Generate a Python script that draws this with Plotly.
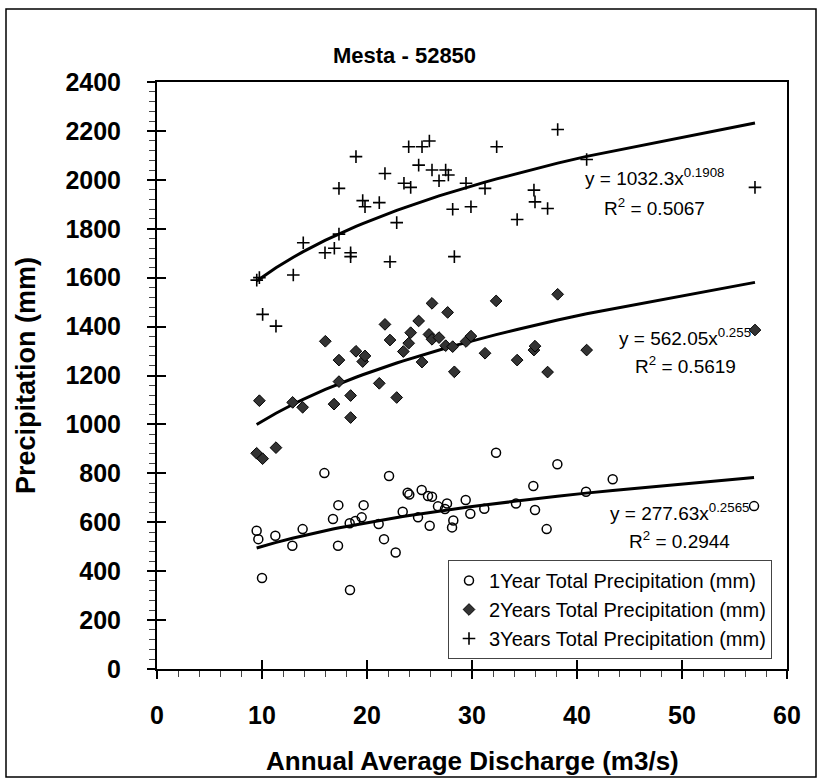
import numpy as np
import plotly.graph_objects as go

# ---------------- data ----------------
x_1yr = [9.49, 9.65, 10.0, 11.27, 12.89, 13.87, 15.94, 16.76, 17.27, 17.24, 18.35, 18.38, 18.89, 19.49,
         19.68, 21.11, 21.62, 22.1, 22.73, 23.4, 23.87, 24.03, 24.86, 25.21, 25.81, 26.19, 25.97, 26.76,
         27.43, 27.62, 28.22, 28.1, 29.4, 29.84, 31.17, 32.29, 34.19, 35.84, 36.0, 37.11, 38.13, 40.86,
         43.4, 56.86]
y_1yr = [565, 531, 372, 545, 504, 572, 801, 613, 670, 504, 596, 323, 605, 620,
         670, 593, 531, 789, 476, 643, 721, 713, 620, 732, 707, 704, 586, 665,
         654, 677, 607, 579, 691, 635, 655, 884, 677, 748, 650, 572, 837, 725,
         776, 666]

x_2yr = [9.75, 9.49, 10.06, 11.33, 12.92, 13.87, 16.03, 16.86, 17.33, 17.33, 18.44, 18.44, 18.95, 19.59,
         19.81, 21.17, 21.71, 22.19, 22.83, 23.46, 23.97, 24.16, 24.92, 25.24, 25.9, 26.19, 26.19, 26.86,
         27.49, 27.68, 28.16, 28.32, 29.43, 29.9, 31.24, 32.3, 34.3, 35.9, 36.0, 37.2, 38.16, 40.92, 56.95]
y_2yr = [1097, 882, 860, 905, 1090, 1070, 1340, 1083, 1263, 1175, 1118, 1028, 1299, 1257,
         1280, 1168, 1409, 1345, 1110, 1298, 1332, 1375, 1423, 1255, 1368, 1495, 1348, 1355,
         1322, 1458, 1318, 1215, 1339, 1361, 1291, 1505, 1263, 1304, 1320, 1214, 1532, 1304, 1386]

x_3yr = [9.5, 9.75, 10.06, 11.33, 12.98, 13.93, 16.0, 16.89, 17.33, 17.33, 18.44, 18.44, 18.95, 19.59,
         19.81, 21.17, 21.71, 22.19, 22.83, 23.52, 23.97, 24.16, 24.92, 25.24, 25.94, 26.19, 26.86,
         27.49, 27.75, 28.16, 28.32, 29.43, 29.9, 31.24, 32.35, 34.3, 35.9, 36.0, 37.2, 38.16, 40.92, 56.95]
y_3yr = [1590, 1600, 1450, 1402, 1611, 1743, 1702, 1720, 1965, 1778, 1702, 1686, 2095, 1915,
         1890, 1907, 2026, 1665, 1825, 1986, 2135, 1969, 2060, 2135, 2159, 2040, 1996,
         2040, 2020, 1880, 1686, 1986, 1890, 1965, 2135, 1838, 1958, 1910, 1883, 2206, 2083, 1969]

# power trendline coefficients (y = a * x^b) as printed on the chart
fit_1yr = (277.63, 0.2565)
fit_2yr = (562.05, 0.2558)
fit_3yr = (1032.3, 0.1908)

series_names = ["1Year Total Precipitation (mm)",
                "2Years Total Precipitation (mm)",
                "3Years Total Precipitation (mm)"]
eq_lines = ["y = 277.63x<sup>0.2565</sup>",
            "y = 562.05x<sup>0.255</sup>",
            "y = 1032.3x<sup>0.1908</sup>"]
r2_lines = ["R<sup>2</sup> = 0.2944",
            "R<sup>2</sup> = 0.5619",
            "R<sup>2</sup> = 0.5067"]

x_ticks = [0, 10, 20, 30, 40, 50, 60]
y_ticks = list(range(0, 2401, 200))

FONT = "Liberation Sans, Arial, sans-serif"

fig = go.Figure()

# trendlines
for xs, (a, b) in [(x_1yr, fit_1yr), (x_2yr, fit_2yr), (x_3yr, fit_3yr)]:
    xt = np.array(sorted(xs))
    fig.add_trace(go.Scatter(x=xt, y=a * xt ** b, mode="lines",
                             line=dict(color="black", width=3),
                             showlegend=False, hoverinfo="skip"))

fig.add_trace(go.Scatter(x=x_1yr, y=y_1yr, mode="markers", name=series_names[0],
                         marker=dict(symbol="circle-open", size=9, color="black",
                                     line=dict(width=1.5, color="black"))))
fig.add_trace(go.Scatter(x=x_2yr, y=y_2yr, mode="markers", name=series_names[1],
                         marker=dict(symbol="diamond", size=9, color="#333333",
                                     line=dict(width=1, color="black"))))
fig.add_trace(go.Scatter(x=x_3yr, y=y_3yr, mode="markers", name=series_names[2],
                         marker=dict(symbol="cross-thin", size=9, color="black",
                                     line=dict(width=1.6, color="black"))))

# dummy trace for the overlay axes (inside halves of the major ticks)
fig.add_trace(go.Scatter(x=[None], y=[None], xaxis="x2", yaxis="y2",
                         showlegend=False, hoverinfo="skip"))

# equation labels (eq line, R^2 line)
eq_pos = [(49.8, 643, 527), (50.3, 1359, 1243), (47.4, 2013, 1890)]
for (ex, ey1, ey2), t1, t2 in zip(eq_pos, eq_lines, r2_lines):
    fig.add_annotation(x=ex, y=ey1, xref="x", yref="y", text=t1, showarrow=False,
                       xanchor="center", yanchor="middle",
                       font=dict(family=FONT, size=19, color="black"))
    fig.add_annotation(x=ex, y=ey2, xref="x", yref="y", text=t2, showarrow=False,
                       xanchor="center", yanchor="middle",
                       font=dict(family=FONT, size=19, color="black"))

W, H = 823, 780
L, T = 157, 82
R = W - 787
B = H - 669
pw, ph = W - L - R, H - T - B


def px(xpix):
    return (xpix - L) / pw


def py(ypix):
    return (H - B - ypix) / ph


fig.add_annotation(x=px(404), y=py(56), xref="paper", yref="paper", text="<b>Mesta - 52850</b>",
                   xanchor="center", yanchor="middle",
                   showarrow=False, font=dict(family=FONT, size=22, color="black"))
fig.add_annotation(x=px(472), y=py(761), xref="paper", yref="paper",
                   text="<b>Annual Average Discharge (m3/s)</b>", xanchor="center", yanchor="middle",
                   showarrow=False, font=dict(family=FONT, size=26, color="black"))

# outer chart border
fig.add_shape(type="rect", xref="paper", yref="paper",
              x0=px(6), x1=px(816), y0=py(777), y1=py(9),
              line=dict(color="black", width=1.5), fillcolor="rgba(0,0,0,0)", layer="below")

axis_font = dict(family=FONT, size=25, color="black", weight="bold")
fig.update_layout(
    width=W, height=H, margin=dict(l=L, r=R, t=T, b=B),
    paper_bgcolor="white", plot_bgcolor="white",
    showlegend=True,
    legend=dict(x=px(772), xanchor="right", y=py(659), yanchor="bottom",
                bgcolor="white", bordercolor="#444444", borderwidth=1,
                font=dict(family=FONT, size=20, color="black"),
                tracegroupgap=0, itemwidth=30),
    xaxis=dict(range=[0, 60], tickvals=x_ticks, showgrid=False, zeroline=False,
               showline=True, linecolor="black", linewidth=2, mirror=True,
               ticks="outside", ticklen=8, tickwidth=1.5, tickcolor="black",
               minor=dict(dtick=2, ticks="outside", ticklen=6, tickwidth=1, tickcolor="#444444"),
               tickfont=axis_font, ticklabelstandoff=15),
    yaxis=dict(range=[0, 2400], tickvals=y_ticks, showgrid=False, zeroline=False,
               showline=True, linecolor="black", linewidth=2, mirror=True,
               ticks="outside", ticklen=8, tickwidth=1.5, tickcolor="black",
               minor=dict(dtick=40, ticks="outside", ticklen=6, tickwidth=1, tickcolor="#444444"),
               tickfont=axis_font, ticklabelstandoff=21,
               title=dict(text="<b>Precipitation (mm)</b>", standoff=22,
                          font=dict(family=FONT, size=27, color="black"))),
    xaxis2=dict(range=[0, 60], overlaying="x", anchor="y2", tickvals=x_ticks, ticks="inside",
                ticklen=9, tickwidth=1.5, tickcolor="black", showticklabels=False,
                showgrid=False, zeroline=False, showline=False),
    yaxis2=dict(range=[0, 2400], overlaying="y", anchor="x2", tickvals=y_ticks, ticks="inside",
                ticklen=9, tickwidth=1.5, tickcolor="black", showticklabels=False,
                showgrid=False, zeroline=False, showline=False),
)

fig.write_html("out.html", config={"displayModeBar": False},
               post_script="document.body.style.margin='0px';")
